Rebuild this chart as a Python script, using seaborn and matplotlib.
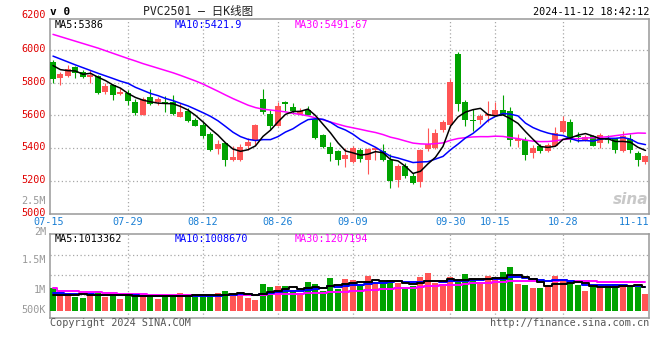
import numpy as np
import pandas as pd
import matplotlib
matplotlib.use("Agg")
import matplotlib.pyplot as plt
from matplotlib.transforms import ScaledTranslation
import seaborn as sns

# ---------------- data ----------------
dates = ["07-15","07-16","07-17","07-18","07-19","07-22","07-23","07-24","07-25","07-26",
         "07-29","07-30","07-31","08-01","08-02","08-05","08-06","08-07","08-08","08-09",
         "08-12","08-13","08-14","08-15","08-16","08-19","08-20","08-21","08-22","08-23",
         "08-26","08-27","08-28","08-29","08-30","09-02","09-03","09-04","09-05","09-06",
         "09-09","09-10","09-11","09-12","09-13","09-18","09-19","09-20","09-23","09-24",
         "09-25","09-26","09-27","09-30","10-08","10-09","10-10","10-11","10-14","10-15",
         "10-16","10-17","10-18","10-21","10-22","10-23","10-24","10-25","10-28","10-29",
         "10-30","10-31","11-01","11-04","11-05","11-06","11-07","11-08","11-11","11-12"]

opens = [5926, 5828, 5840, 5896, 5865, 5836, 5843, 5742, 5789, 5730,
         5740, 5685, 5605, 5710, 5681, 5681, 5680, 5591, 5626, 5570,
         5544, 5489, 5397, 5431, 5329, 5329, 5415, 5448, 5701, 5611,
         5538, 5683, 5652, 5611, 5636, 5579, 5483, 5405, 5384, 5335,
         5313, 5390, 5329, 5390, 5384, 5329, 5206, 5292, 5227, 5190,
         5395, 5399, 5513, 5544, 5973, 5683, 5575, 5570, 5595, 5605,
         5636, 5626, 5442, 5448, 5370, 5414, 5380, 5416, 5496, 5562,
         5476, 5452, 5472, 5431, 5461, 5461, 5380, 5455, 5373, 5318]
highs = [5937, 5863, 5908, 5904, 5877, 5881, 5849, 5800, 5793, 5769,
         5757, 5699, 5710, 5759, 5712, 5718, 5722, 5677, 5646, 5585,
         5564, 5499, 5448, 5435, 5415, 5425, 5462, 5546, 5759, 5632,
         5681, 5687, 5677, 5646, 5660, 5585, 5485, 5440, 5386, 5401,
         5415, 5401, 5399, 5405, 5425, 5364, 5302, 5309, 5247, 5395,
         5523, 5519, 5575, 5824, 5988, 5697, 5640, 5611, 5691, 5681,
         5728, 5650, 5489, 5468, 5417, 5425, 5431, 5529, 5598, 5578,
         5496, 5480, 5482, 5492, 5482, 5463, 5502, 5486, 5380, 5358]
lows = [5800, 5785, 5834, 5828, 5826, 5797, 5734, 5730, 5693, 5724,
        5662, 5601, 5601, 5665, 5662, 5624, 5600, 5589, 5558, 5535,
        5462, 5380, 5366, 5292, 5323, 5323, 5386, 5421, 5609, 5519,
        5535, 5626, 5611, 5609, 5601, 5456, 5401, 5323, 5298, 5282,
        5311, 5315, 5243, 5325, 5323, 5155, 5161, 5217, 5180, 5165,
        5384, 5397, 5499, 5530, 5630, 5534, 5503, 5550, 5558, 5595,
        5603, 5411, 5407, 5329, 5339, 5369, 5376, 5414, 5494, 5435,
        5435, 5445, 5410, 5400, 5431, 5369, 5378, 5373, 5288, 5304]
closes = [5820, 5855, 5887, 5861, 5836, 5850, 5736, 5783, 5724, 5742,
          5687, 5613, 5701, 5673, 5703, 5675, 5606, 5618, 5564, 5538,
          5476, 5391, 5427, 5329, 5348, 5407, 5440, 5544, 5620, 5538,
          5660, 5671, 5628, 5630, 5605, 5462, 5405, 5364, 5325, 5358,
          5403, 5335, 5395, 5401, 5325, 5196, 5292, 5227, 5186, 5390,
          5425, 5493, 5558, 5804, 5673, 5575, 5566, 5599, 5611, 5636,
          5605, 5448, 5456, 5360, 5401, 5384, 5421, 5492, 5568, 5447,
          5468, 5470, 5416, 5482, 5449, 5386, 5472, 5390, 5328, 5353]
volumes = [961000, 674000, 773000, 588000, 545000, 717000, 845000, 601000, 674000, 502000,
           674000, 674000, 631000, 657000, 502000, 631000, 631000, 760000, 717000, 614000,
           614000, 614000, 760000, 845000, 717000, 803000, 545000, 459000, 1146000, 1017000,
           1060000, 1060000, 845000, 760000, 1232000, 1146000, 845000, 1403000, 931000, 1361000,
           1318000, 1146000, 1489000, 1189000, 1232000, 1318000, 1189000, 974000, 1060000, 1446000,
           1618000, 1189000, 1146000, 1446000, 1232000, 1575000, 1318000, 1146000, 1489000, 1446000,
           1661000, 1876000, 1146000, 1103000, 974000, 974000, 1103000, 1489000, 1275000, 1146000,
           1103000, 845000, 1017000, 974000, 1103000, 1146000, 1060000, 1103000, 1017000, 717000]

# moving-average values at the start of the window
ma5_head = [5905, 5880, 5874, 5872]
ma10_head = [5963, 5945, 5927, 5909, 5892, 5875, 5858, 5842, 5826]
ma30_head = [6096, 6082, 6068, 6054, 6040, 6026, 6012, 5996, 5980, 5964,
             5948, 5933, 5917, 5903, 5889, 5875, 5861, 5845, 5828, 5811,
             5792, 5770, 5748, 5725, 5703, 5683, 5663, 5648, 5638]
vma5_head = [674000, 674000, 674000, 680000]
vma10_head = [743000, 743000, 735000, 720000, 710000, 700000, 695000, 690000, 688000]
vma30_head = [957000, 845000, 845000, 845000, 803000, 803000, 803000, 760000, 760000, 717000,
              717000, 717000, 717000, 690000, 657000, 657000, 657000, 657000, 657000, 657000,
              657000, 657000, 657000, 657000, 657000, 674000, 674000, 674000, 674000]

tick_dates = ["07-15", "07-29", "08-12", "08-26", "09-09", "09-30", "10-15", "10-28", "11-11"]
price_ticks = [5000, 5200, 5400, 5600, 5800, 6000]
legend_price = ["MA5:5386", "MA10:5421.9", "MA30:5491.67"]
legend_vol = ["MA5:1013362", "MA10:1008670", "MA30:1207194"]
vol_labels = ["2.5M", "2M", "1.5M", "1M", "500K"]


def moving_avg(values, n, head):
    s = pd.Series(values, dtype=float).rolling(n).mean()
    s.iloc[:len(head)] = head
    return s.values


# ---------------- style ----------------
sns.set_theme(style="white")
plt.rcParams["font.family"] = ["DejaVu Sans Mono", "Noto Sans CJK SC"]

RED = "#ff5555"
GREEN = "#00a300"
BLUE = "#0000ff"
MAG = "#ff00ff"
GRID = "#a8a8a8"
SPINE = "#999999"
FS = 7.3

W, H = 660, 360
fig = plt.figure(figsize=(6.6, 3.6), dpi=100)


def fx(x):
    return x / W


def fy(y):
    return 1 - y / H


ax = fig.add_axes([fx(50), fy(213.5), 599 / W, 194.5 / H])
ax2 = fig.add_axes([fx(50), fy(318.3), 599 / W, 84 / H])

n = len(closes)
x = np.arange(n)
o = np.array(opens, float)
c = np.array(closes, float)
hi = np.array(highs, float)
lo = np.array(lows, float)
up = c >= o
cols = np.where(up, RED, GREEN)

# candles
ax.vlines(x, lo, hi, colors=cols, linewidth=0.8, zorder=3)
body_h = np.maximum(np.abs(c - o), 4)
ax.bar(x, body_h, bottom=np.minimum(o, c), width=0.8, color=cols, linewidth=0, zorder=3)

ma5 = moving_avg(closes, 5, ma5_head)
ma10 = moving_avg(closes, 10, ma10_head)
ma30 = moving_avg(closes, 30, ma30_head)
sns.lineplot(x=x, y=ma30, ax=ax, color=MAG, linewidth=1.1, zorder=4, legend=False, estimator=None)
sns.lineplot(x=x, y=ma10, ax=ax, color=BLUE, linewidth=1.1, zorder=4, legend=False, estimator=None)
sns.lineplot(x=x, y=ma5, ax=ax, color="black", linewidth=1.1, zorder=5, legend=False, estimator=None)

# volume
ax2.bar(x, volumes, width=0.8, color=cols, linewidth=0, zorder=3)
vma5 = moving_avg(volumes, 5, vma5_head)
vma10 = moving_avg(volumes, 10, vma10_head)
vma30 = moving_avg(volumes, 30, vma30_head)
sns.lineplot(x=x, y=vma30, ax=ax2, color=MAG, linewidth=1.4, drawstyle="steps-mid",
             zorder=4, legend=False, estimator=None)
sns.lineplot(x=x, y=vma10, ax=ax2, color=BLUE, linewidth=1.4, drawstyle="steps-mid",
             zorder=4, legend=False, estimator=None)
sns.lineplot(x=x, y=vma5, ax=ax2, color="black", linewidth=1.4, drawstyle="steps-mid",
             zorder=5, legend=False, estimator=None)

# axes limits
for a in (ax, ax2):
    a.set_xlim(-0.4, 79.47)
    a.set_xlabel("")
    a.set_ylabel("")
    for s in a.spines.values():
        s.set_color(SPINE)
        s.set_linewidth(1.1)
        s.set_visible(True)
    a.set_facecolor("white")

ax.set_ylim(5000, 6190)
ax2.set_ylim(-326000, 3279000)

# grids
grid_kw = dict(color=GRID, linestyle=(0, (1, 2)), linewidth=0.9, zorder=1)
tick_pos = [dates.index(d) for d in tick_dates]
for p in tick_pos[1:-1]:
    ax.axvline(p, **grid_kw)
    ax2.axvline(p, **grid_kw)
for v in price_ticks[1:]:
    ax.axhline(v, **grid_kw)
for v in [674000, 1532000, 2391000]:
    ax2.axhline(v, **grid_kw)

# ticks
ax.set_yticks(price_ticks)
ax.set_yticklabels([str(v) for v in price_ticks])
ax.tick_params(axis="y", length=0, pad=3, labelsize=FS, labelcolor="#e00000")
for lab in ax.get_yticklabels():
    lab.set_transform(lab.get_transform() + ScaledTranslation(0, 0.018, fig.dpi_scale_trans))
ax.set_xticks(tick_pos)
ax.set_xticklabels(tick_dates)
ax.tick_params(axis="x", length=0, pad=2.8, labelsize=FS, labelcolor="#1a7fd4")
for lab in ax.get_xticklabels():
    if lab.get_text() in ("07-15", "11-11"):
        lab.set_transform(lab.get_transform() + ScaledTranslation(-0.04, 0, fig.dpi_scale_trans))
ax2.set_xticks([])
ax2.set_yticks([])
ax.grid(False)
ax2.grid(False)

# texts
fig.text(fx(46), fy(15), "6200", ha="right", va="center", fontsize=FS, color="#e00000")
for lab, yy in zip(vol_labels, [200.5, 231.5, 260, 290, 310]):
    fig.text(fx(46), fy(yy), lab, ha="right", va="center", fontsize=FS, color="#999999")

fig.text(fx(50), fy(12), "v 0", ha="left", va="center", fontsize=8, fontweight="bold", color="black")
fig.text(fx(198), fy(12), "PVC2501 – 日K线图", ha="center", va="center", fontsize=8.3, color="#222222")
fig.text(fx(649), fy(12), "2024-11-12 18:42:12", ha="right", va="center", fontsize=FS, color="black")

for lab, xx, colr in zip(legend_price, [55, 175, 295], ["black", BLUE, MAG]):
    fig.text(fx(xx), fy(24.5), lab, ha="left", va="center", fontsize=FS, color=colr)
for lab, xx, colr in zip(legend_vol, [55, 175, 295], ["black", BLUE, MAG]):
    fig.text(fx(xx), fy(238.5), lab, ha="left", va="center", fontsize=FS, color=colr)

fig.text(fx(50), fy(323), "Copyright 2024 SINA.COM", ha="left", va="center", fontsize=FS, color="#555555")
fig.text(fx(649), fy(323), "http://finance.sina.com.cn", ha="right", va="center", fontsize=FS, color="#555555")

fig.text(fx(648), fy(200), "sina", ha="right", va="center", fontsize=11, fontweight="bold",
         fontstyle="italic", color="#c8c8c8", family="DejaVu Sans")

fig.savefig("out.png", dpi=100, facecolor="white")
